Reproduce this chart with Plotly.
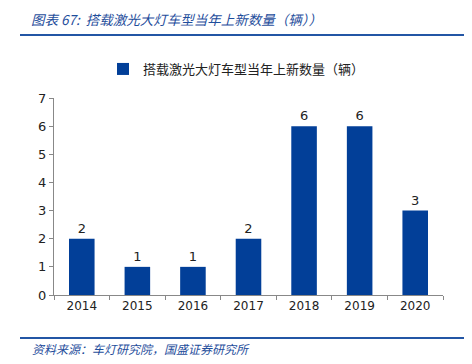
import plotly.graph_objects as go

years = ["2014", "2015", "2016", "2017", "2018", "2019", "2020"]
counts = [2, 1, 1, 2, 6, 6, 3]
series_name = "搭载激光大灯车型当年上新数量（辆）"
title_text = "图表 67:  搭载激光大灯车型当年上新数量（辆））"
source_text = "资料来源：车灯研究院，国盛证券研究所"

bar_color = "#023F98"
line_color = "#2356A5"
text_blue = "#1F4E9C"
cjk = "Noto Sans CJK SC"
latin = "DejaVu Sans"

W, H = 472, 364
ML, MR, MT, MB = 54, 29, 98, 69
plot_h = H - MT - MB
plot_w = W - ML - MR

def py(ypix):
    return (H - MB - ypix) / plot_h

def px(xpix):
    return (xpix - ML) / plot_w

fig = go.Figure()
fig.add_trace(go.Bar(
    x=years, y=counts, name=series_name,
    marker=dict(color=bar_color, line=dict(width=0)),
    text=[str(v) for v in counts], textposition="outside",
    textfont=dict(family=latin, size=13, color="#222222"),
    width=0.46, cliponaxis=False, showlegend=True,
))

fig.update_layout(
    width=W, height=H,
    margin=dict(l=ML, r=MR, t=MT, b=MB),
    paper_bgcolor="white", plot_bgcolor="white",
    font=dict(family=latin, size=12, color="#222222"),
    showlegend=True,
    legend=dict(orientation="h", x=px(103), xanchor="left", y=py(69), yanchor="middle",
                font=dict(family=cjk, size=13, color="#222222"),
                bgcolor="rgba(0,0,0,0)"),
    xaxis=dict(type="category", showline=True, linecolor="#888888", linewidth=1,
               ticks="outside", tickson="boundaries", ticklen=4, tickcolor="#888888",
               tickfont=dict(family=latin, size=12, color="#222222"),
               showgrid=False, zeroline=False),
    yaxis=dict(range=[0, 7], dtick=1, showline=True, linecolor="#888888", linewidth=1,
               ticks="outside", ticklen=4, tickcolor="#888888",
               tickfont=dict(family=latin, size=13, color="#222222"),
               showgrid=False, zeroline=False),
)

fig.add_annotation(text=title_text, xref="paper", yref="paper", x=px(29), xanchor="left",
                   y=py(19), yanchor="middle", showarrow=False,
                   font=dict(family=cjk, size=13.5, color=text_blue, style="italic"))
fig.add_annotation(text=source_text, xref="paper", yref="paper", x=px(30), xanchor="left",
                   y=py(348), yanchor="middle", showarrow=False,
                   font=dict(family=cjk, size=12, color=text_blue, style="italic"))
fig.update_layout(shapes=[
    dict(type="line", xref="paper", yref="paper", x0=px(20), x1=px(464), y0=py(35), y1=py(35),
         line=dict(color=line_color, width=2)),
    dict(type="line", xref="paper", yref="paper", x0=px(20), x1=px(464), y0=py(338), y1=py(338),
         line=dict(color=line_color, width=2)),
])

fig.write_html("out.html", config={"displayModeBar": False},
               post_script="document.body.style.margin='0px';")
